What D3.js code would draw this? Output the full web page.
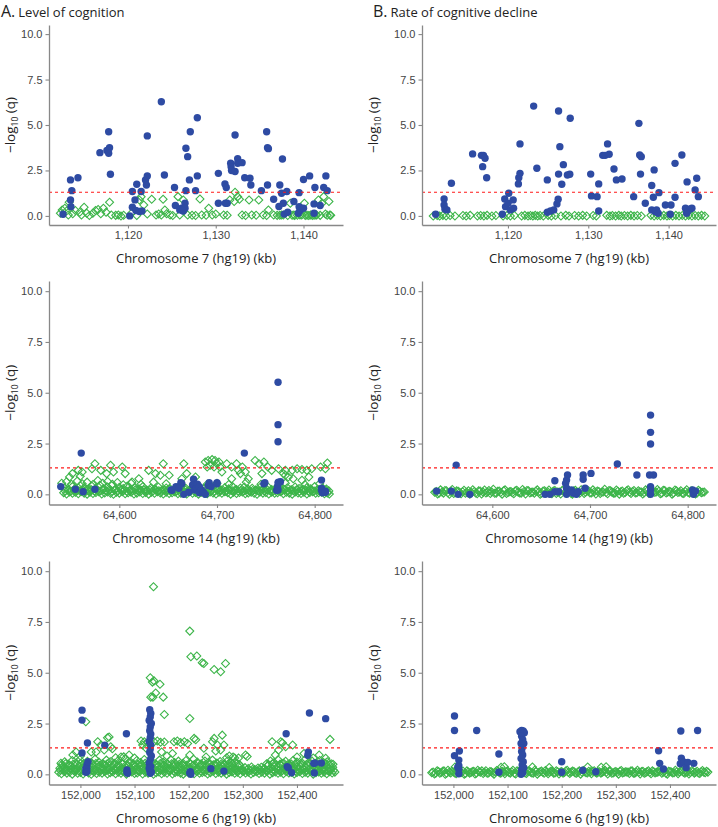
<!DOCTYPE html>
<html>
<head>
<meta charset="utf-8">
<script src="https://cdn.jsdelivr.net/npm/d3@7"></script>
<style>
  body { margin: 0; background: #fff; }
  svg { display: block; font-family: "Open Sans", sans-serif; }
  .tick text { fill: #444; font-size: 11px; }
  .tick line { stroke: #888; stroke-width: 1.1; }
  .domain { stroke: #888; stroke-width: 1.3; }
</style>
</head>
<body>
<div id="chart"></div>
<script>
// ---- shared axis values ----
const yTicks = [0, 2.5, 5, 7.5, 10];
const chr7Ticks = [1120, 1130, 1140];
const chr14Ticks = [64600, 64700, 64800];
const chr6Ticks = [152000, 152100, 152200, 152300, 152400];
const qThreshold = 1.3; // -log10(0.05)

// ---- A, chromosome 7 ----
const a7Blue = [[1112.6,.09],[1113.45,1.98],[1113.6,1.39],[1113.45,.88],[1113.5,.51],[1114.3,2.1],[1116.8,3.48],[1117.8,4.63],[1117.6,3.6],[1117.9,3.75],[1117.8,3.45],[1118,2.29],
  [1120.2,0],[1120.5,1.34],[1121,1.74],[1120.8,.88],[1120.5,.48],[1120.9,.3],[1121.3,.24],[1121.6,.27],[1121.5,1.34],[1122,1.98],[1122.1,1.7],[1122.2,2.2],[1122.2,4.4],
  [1123.8,6.28],[1124.15,2.25],[1125.3,1.56],[1125.4,.57],[1125.9,.33],[1126.1,.42],[1126.3,.27],[1126.5,.7],[1126.5,.42],[1126.2,.3],[1126.6,3.72],[1126.8,3.26],[1127,1.98],
  [1127.1,4.63],[1126.6,1.39],[1127.9,5.4],[1127.9,2.2],[1127.7,1.39],[1130.3,2.34],[1130.3,.7],[1131.05,1.76],[1131.2,1.56],[1131.1,.7],[1131.3,.7],[1131.7,2.9],[1131.75,2.7],
  [1131.8,2.5],[1132.2,2.44],[1132.2,4.45],[1132.5,3.15],[1132.5,2.9],[1133,2.93],[1133.3,2.1],[1133.9,2.07],[1134,1.7],[1135.2,1.39],[1135.8,4.63],[1135.9,3.75],[1136,3.7],
  [1135.9,1.7],[1136.6,.92],[1137.3,1.7],[1137.6,3.13],[1137.5,1.25],[1137.2,.52],[1137.7,.7],[1137.8,.1],[1138.2,.2],[1138.1,1.34],[1138.9,.79],[1139.5,1.28],[1139.5,.5],
  [1139.6,.3],[1139.4,.15],[1140,2],[1140.7,2.2],[1140,.42],[1141.3,1.56],[1141.2,.66],[1141.2,.15],[1141.9,.57],[1142.3,1.56],[1142.55,2.2],[1142.7,1.39]];
const a7Green = [[1112.3,.15],[1112.5,.33],[1112.8,.42],[1113,.27],[1113.2,.05],[1113.3,.75],[1113.7,.12],[1114,.3],[1114.5,.2],[1114.7,.05],[1115,.48],[1115.3,.15],[1115.6,.02],
  [1116,.15],[1116.3,.3],[1116.6,.35],[1116.9,.12],[1117.2,.42],[1117.5,.2],[1117.9,.75],[1118.1,.05],[1118.6,.03],[1118.9,.05],[1119.2,0],[1119.5,.04],[1120.4,.15],[1121,.02],
  [1121.3,.88],[1121.5,1.06],[1121.8,.6],[1122.2,.1],[1122.7,.92],[1123.2,.05],[1123.5,.1],[1123.8,.05],[1124,.92],[1124.2,.33],[1124.4,.12],[1124.8,.05],[1125.1,.02],[1125.7,1.06],
  [1125.9,.05],[1126.3,.88],[1126.8,.05],[1127.3,.04],[1127.7,.02],[1128.2,.93],[1128.4,.05],[1128.9,.04],[1129.2,.42],[1129.6,.05],[1130,.1],[1130.9,.05],[1131.3,.04],[1131.6,.88],
  [1132.2,1.3],[1132.5,1.06],[1132.7,.92],[1132.1,.79],[1133,.05],[1133.4,.02],[1133.8,.88],[1134.1,.05],[1134.6,.04],[1134.9,.88],[1135.4,.05],[1135.8,.02],[1136,.33],[1136.6,.05],
  [1137,.03],[1137.3,.04],[1137.5,.05],[1137.7,.05],[1138.2,.02],[1138.5,.7],[1138.7,.04],[1138.9,.05],[1139,.02],[1139.3,.04],[1139.6,.05],[1139.8,.05],[1140.1,.7],[1140.2,.03],
  [1140.4,.04],[1140.6,.02],[1140.8,.05],[1141,.03],[1141.2,.04],[1141.4,.05],[1141.5,.05],[1141.7,.88],[1141.9,.03],[1142.1,.7],[1142.3,1.06],[1142.5,.1],[1142.7,.04],[1142.9,.79],
  [1143,.05],[1143.1,.03]];

// ---- B, chromosome 7 ----
const b7Blue = [[1111,.09],[1112.05,.93],[1112.05,.6],[1112.15,.38],[1112.4,.33],[1112.96,1.8],[1115.6,3.41],[1116.7,3.33],[1116.95,3.33],[1117.15,3.17],[1116.85,2.71],[1117.35,2.1],
  [1119.3,.09],[1119.6,.93],[1119.7,.51],[1120,.7],[1120.1,1.25],[1120.3,.33],[1120.65,.88],[1120.7,.42],[1121.3,1.76],[1121.35,2.1],[1121.5,2.34],[1121.5,3.96],[1123.6,2.62],
  [1123.2,6.04],[1124.9,1.98],[1124.9,.2],[1125.3,.27],[1125.7,.33],[1126.1,.66],[1126.25,.92],[1126.3,5.77],[1126.3,2.3],[1126.46,3.81],[1126.7,1.74],[1126.9,2.82],[1127.4,2.25],
  [1127.7,2.29],[1127.75,5.37],[1130.3,2.3],[1130.4,1.1],[1131.1,1.06],[1131.3,1.76],[1131.3,.27],[1131.8,3.33],[1132.1,3.33],[1132.4,3.96],[1132.6,3.39],[1133.2,2.58],[1133.5,1.98],
  [1134.2,2.03],[1135.65,1.06],[1136.3,5.09],[1136.4,3.35],[1136.6,3.26],[1136.5,2.3],[1137.1,.7],[1137.9,1.67],[1138.2,2.53],[1138.1,1.03],[1137.9,.33],[1138.3,.24],[1138.5,.33],
  [1138.7,.15],[1138.8,1.28],[1139.6,.6],[1140.3,.6],[1140.2,.09],[1140.8,2.89],[1140.8,1.03],[1141.65,3.35],[1142.3,1.87],[1142.1,.42],[1142.3,.2],[1142.7,.38],[1142.9,.42],
  [1142.25,.15],[1143.3,1.43],[1143.5,2.07],[1143.7,1.06]];
const b7Green = [[1110.7,0],[1111.2,.02],[1111.5,0],[1111.9,.03],[1112.3,0],[1112.8,.02],[1113.4,0],[1114.4,.02],[1114.8,0],[1115.3,.03],[1116.2,0],[1116.6,.02],[1117,0],[1117.4,.03],
  [1118,0],[1118.5,.02],[1119.4,0],[1119.9,.03],[1120.3,0],[1120.8,.02],[1121.7,0],[1122.1,.03],[1122.5,0],[1122.8,.02],[1123.1,0],[1123.4,.03],[1123.7,0],[1124,.02],[1124.4,0],
  [1125,.03],[1125.4,0],[1125.9,.02],[1126.6,0],[1127.2,.03],[1127.6,0],[1128.3,.02],[1128.8,0],[1129.3,.03],[1129.8,0],[1130.6,.02],[1131,0],[1132.3,.03],[1132.7,0],[1133,.02],
  [1133.4,0],[1133.8,.03],[1134.1,0],[1134.5,.02],[1134.9,0],[1135.3,.03],[1135.7,0],[1136.1,.02],[1136.6,0],[1137.8,.03],[1138.2,0],[1138.6,.02],[1139,0],[1139.4,.03],[1139.8,0],
  [1140.1,.02],[1140.5,0],[1140.9,.03],[1141.3,0],[1141.7,.02],[1142.1,0],[1142.5,.03],[1142.9,0],[1143.3,.02],[1143.7,0],[1144.1,.03],[1144.5,0]];

// ---- A, chromosome 14 ----
const a14Blue = [[64540,.38],[64561,2.03],[64555,.25],[64563,.13],[64575,.25],[64653,.21],[64654,.2],[64658,.38],[64663,.57],[64664,.52],[64661,.3],[64666,0],[64671,.1],[64676,.74],
  [64675,.46],[64677,.21],[64679,.3],[64680,.5],[64682,.08],[64682,.38],[64684,.21],[64686,.12],[64688,0],[64691,.44],[64692,.57],[64694,.38],[64700,.57],[64700,.52],[64728,2.03],
  [64748,.52],[64749,.57],[64761,.2],[64762.5,5.52],[64762.5,3.43],[64762.5,2.59],[64762.5,.57],[64762.5,.21],[64765,.62],[64762,.38],[64763,.6],[64807,.7],[64807,.3],[64807,.2],
  [64808,.08],[64811,.16],[64811,.1]];
const a14Green = [
  // lower band
  [64543,.08],[64546,.02],[64549,.12],[64552,.05],[64555,.1],[64558,.03],[64561,.14],[64564,.06],[64567,.01],[64570,.11],[64573,.04],[64576,.09],[64579,.13],[64582,.02],[64585,.07],
  [64588,.12],[64591,.05],[64594,0],[64597,.1],[64600,.06],[64603,.13],[64606,.03],[64609,.08],[64612,.11],[64615,.02],[64618,.06],[64621,.12],[64624,.04],[64627,.09],[64630,.01],
  [64633,.1],[64636,.05],[64639,.13],[64642,.07],[64645,.02],[64648,.11],[64651,.04],[64654,.08],[64657,.12],[64660,.03],[64663,.06],[64666,.1],[64669,.02],[64672,.13],[64675,.05],
  [64678,.09],[64681,.01],[64684,.11],[64687,.06],[64690,.03],[64693,.12],[64696,.07],[64699,.02],[64702,.1],[64705,.05],[64708,.13],[64711,.08],[64714,.01],[64717,.11],[64720,.04],
  [64723,.09],[64726,.12],[64729,.03],[64732,.07],[64735,.1],[64738,.05],[64741,0],[64744,.12],[64747,.06],[64750,.09],[64753,.02],[64756,.11],[64759,.05],[64762,.08],[64765,.13],
  [64768,.03],[64771,.1],[64774,.06],[64777,.01],[64780,.12],[64783,.07],[64786,.04],[64789,.1],[64792,.02],[64795,.09],[64798,.13],[64801,.05],[64804,.08],[64807,.11],[64810,.03],
  [64813,.07],[64815,.02],
  [64544.5,.17],[64547.5,.21],[64550.5,.15],[64553.5,.22],[64556.5,.18],[64559.5,.16],[64562.5,.21],[64565.5,.19],[64568.5,.15],[64571.5,.23],[64574.5,.17],[64577.5,.2],[64580.5,.16],
  [64583.5,.22],[64586.5,.18],[64589.5,.2],[64592.5,.15],[64595.5,.21],[64598.5,.17],[64601.5,.23],[64604.5,.19],[64607.5,.16],[64610.5,.2],[64613.5,.18],[64616.5,.22],[64619.5,.15],
  [64622.5,.19],[64625.5,.21],[64628.5,.17],[64631.5,.2],[64634.5,.16],[64637.5,.22],[64640.5,.18],[64643.5,.15],[64646.5,.2],[64649.5,.23],[64652.5,.17],[64655.5,.19],[64658.5,.15],
  [64661.5,.21],[64664.5,.18],[64667.5,.22],[64670.5,.16],[64673.5,.2],[64676.5,.17],[64679.5,.23],[64682.5,.19],[64685.5,.15],[64688.5,.21],[64691.5,.18],[64694.5,.2],[64697.5,.16],
  [64700.5,.22],[64703.5,.17],[64706.5,.19],[64709.5,.15],[64712.5,.21],[64715.5,.18],[64718.5,.23],[64721.5,.16],[64724.5,.2],[64727.5,.17],[64730.5,.22],[64733.5,.15],[64736.5,.19],
  [64739.5,.21],[64742.5,.17],[64745.5,.2],[64748.5,.16],[64751.5,.22],[64754.5,.18],[64757.5,.15],[64760.5,.21],[64763.5,.19],[64766.5,.17],[64769.5,.23],[64772.5,.16],[64775.5,.2],
  [64778.5,.18],[64781.5,.22],[64784.5,.15],[64787.5,.19],[64790.5,.21],[64793.5,.17],[64796.5,.2],[64799.5,.16],[64802.5,.22],[64805.5,.18],[64808.5,.15],[64811.5,.2],[64814.5,.17],
  // middle band
  [64544,.3],[64548,.22],[64552,.38],[64556,.27],[64560,.42],[64564,.33],[64568,.25],[64572,.4],[64576,.3],[64580,.45],[64584,.28],[64588,.36],[64592,.44],[64596,.24],[64600,.35],
  [64604,.29],[64608,.4],[64612,.22],[64616,.33],[64620,.27],[64624,.38],[64628,.21],[64632,.3],[64636,.25],[64640,.36],[64644,.22],[64648,.31],[64652,.27],[64656,.2],[64660,.34],
  [64664,.26],[64668,.3],[64672,.23],[64676,.35],[64680,.28],[64684,.2],[64688,.32],[64692,.26],[64696,.37],[64700,.29],[64704,.22],[64708,.33],[64712,.27],[64716,.38],[64720,.24],
  [64724,.31],[64728,.36],[64732,.25],[64736,.3],[64740,.21],[64744,.34],[64748,.28],[64752,.37],[64756,.24],[64760,.3],[64764,.35],[64768,.26],[64772,.32],[64776,.22],[64780,.36],
  [64784,.29],[64788,.25],[64792,.33],[64796,.27],[64800,.38],[64804,.23],[64808,.31],[64812,.26],
  // upper edge of band
  [64541,.55],[64546,.62],[64551,.5],[64557,.66],[64562,.52],[64567,.6],[64573,.48],[64578,.68],[64583,.55],[64588,.63],[64593,.5],[64598,.58],[64604,.47],[64612,.55],[64622,.5],
  [64635,.6],[64648,.52],[64690,.5],[64700,.55],[64712,.48],[64730,.6],[64745,.5],[64770,.55],[64790,.48],[64805,.52],
  // scattered
  [64549,.85],[64552,1.02],[64558,1.18],[64562,1.1],[64560,.89],[64575,1.51],[64581,1.18],[64572,1.26],[64591,1.43],[64594,1.1],[64587,1.02],[64603,1.35],[64606,1.02],[64613,.61],
  [64620,.77],[64630,1.18],[64637,1.02],[64642,.94],[64645,1.51],[64651,.94],[64666,1.51],[64669,1.02],[64664,.77],[64688,1.59],[64691,1.67],[64695,1.71],[64698,1.67],[64702,1.59],
  [64693,1.43],[64697,1.35],[64700,1.51],[64703,1.35],[64690,1.35],[64705,1.1],[64710,1.51],[64715,1.35],[64720,1.51],[64722,1.18],[64726,1.35],[64729,1.1],[64724,1.02],[64739,1.67],
  [64743,1.51],[64748,1.59],[64752,1.35],[64756,1.18],[64746,1.02],[64763,1.26],[64768,1.02],[64770,1.18],[64777,1.18],[64782,1.26],[64787,1.22],[64792,1.18],[64797,1.26],[64778,.77],
  [64787,.69],[64806,1.35],[64813,1.54],[64811,1.26],[64770,.94],[64773,.85],[64794,.85],[64732,.77],[64715,.77],[64678,.85]];

// ---- B, chromosome 14 ----
const b14Blue = [[64543,.16],[64558,.16],[64565,0],[64577,0],[64563,1.44],[64654,0],[64659,0],[64664,.13],[64664,.67],[64668,.13],[64675,.54],[64676,.7],[64677,.95],[64676,.3],
  [64676,0],[64680,.13],[64681,.21],[64683,.05],[64686,0],[64688,.13],[64693,.74],[64693,.95],[64695,.3],[64701,1.03],[64728,1.49],[64748,.95],[64762,3.9],[64762,3.05],[64762,2.48],
  [64761,.95],[64765,.95],[64762,.38],[64762,.21],[64762,0],[64805,.21],[64806,0],[64808,.16]];
const b14Green = [[64541,.1],[64544,.02],[64547,.22],[64550,.06],[64553,.18],[64556,0],[64559,.24],[64562,.08],[64565,.15],[64568,.03],[64571,.2],[64574,.1],[64577,.01],[64580,.23],
  [64583,.07],[64586,.17],[64589,.02],[64592,.21],[64595,.11],[64598,.04],[64601,.25],[64604,.06],[64607,.16],[64610,.01],[64613,.22],[64616,.09],[64619,.14],[64622,.03],[64625,.2],
  [64628,.07],[64631,.24],[64634,.02],[64637,.18],[64640,.1],[64643,.05],[64646,.22],[64649,0],[64652,.16],[64655,.08],[64658,.21],[64661,.03],[64664,.19],[64667,.11],[64670,.02],
  [64673,.24],[64676,.06],[64679,.15],[64682,.01],[64685,.2],[64688,.09],[64691,.23],[64694,.04],[64697,.17],[64700,.07],[64703,.22],[64706,.02],[64709,.14],[64712,.1],[64715,.25],
  [64718,.03],[64721,.18],[64724,.06],[64727,.21],[64730,.01],[64733,.16],[64736,.09],[64739,.23],[64742,.04],[64745,.19],[64748,.08],[64751,.13],[64754,.02],[64757,.22],[64760,.05],
  [64763,.17],[64766,.1],[64769,.24],[64772,.03],[64775,.2],[64778,.07],[64781,.15],[64784,.01],[64787,.21],[64790,.09],[64793,.18],[64796,.04],[64799,.23],[64802,.06],[64805,.16],
  [64808,.02],[64811,.2],[64814,.08],[64817,.12],
  [64542.5,.14],[64545.5,.06],[64548.5,.12],[64551.5,.19],[64554.5,.08],[64557.5,.15],[64560.5,.04],[64563.5,.17],[64566.5,.1],[64569.5,.13],[64572.5,.05],[64575.5,.18],[64578.5,.09],
  [64581.5,.14],[64584.5,.03],[64587.5,.16],[64590.5,.11],[64593.5,.07],[64596.5,.19],[64599.5,.12],[64602.5,.05],[64605.5,.15],[64608.5,.09],[64611.5,.18],[64614.5,.04],[64617.5,.13],
  [64620.5,.08],[64623.5,.17],[64626.5,.11],[64629.5,.06],[64632.5,.14],[64635.5,.19],[64638.5,.07],[64641.5,.12],[64644.5,.15],[64647.5,.1],[64650.5,.05],[64653.5,.18],[64656.5,.13],
  [64659.5,.08],[64662.5,.16],[64665.5,.04],[64668.5,.12],[64671.5,.19],[64674.5,.09],[64677.5,.14],[64680.5,.06],[64683.5,.17],[64686.5,.11],[64689.5,.05],[64692.5,.15],[64695.5,.1],
  [64698.5,.18],[64701.5,.07],[64704.5,.13],[64707.5,.16],[64710.5,.04],[64713.5,.12],[64716.5,.09],[64719.5,.19],[64722.5,.11],[64725.5,.06],[64728.5,.15],[64731.5,.13],[64734.5,.05],
  [64737.5,.17],[64740.5,.1],[64743.5,.14],[64746.5,.07],[64749.5,.18],[64752.5,.12],[64755.5,.08],[64758.5,.16],[64761.5,.04],[64764.5,.13],[64767.5,.11],[64770.5,.15],[64773.5,.06],
  [64776.5,.19],[64779.5,.1],[64782.5,.13],[64785.5,.07],[64788.5,.17],[64791.5,.12],[64794.5,.05],[64797.5,.14],[64800.5,.09],[64803.5,.18],[64806.5,.11],[64809.5,.06],[64812.5,.15],
  [64815.5,.1]];

// ---- A, chromosome 6 ----
const a6Blue = [[152003,3.16],[152003,2.67],[152003,1.05],[152010,.28],[152010,.1],[152012,.46],[152012,.3],[152012,.13],[152014,.62],[152013,1.54],[152045,1.43],[152085,2.0],
  [152086,.21],[152086,.1],[152087,.05],[152128,3.18],[152130,3.0],[152129,2.82],[152127,2.65],[152131,2.5],[152129,2.33],[152128,2.15],[152130,1.98],[152129,1.8],[152127,1.62],
  [152130,1.45],[152129,1.25],[152128,1.08],[152131,.9],[152129,.72],[152127,.55],[152130,.38],[152128,.2],[152129,.05],[152131,.12],[152127,.3],[152202,.07],[152203,.13],[152204,0],
  [152241,.28],[152265,.16],[152380,2.0],[152382,.38],[152384,.33],[152390,.08],[152423,3.02],[152421,1.1],[152420,.94],[152431,.54],[152433,.56],[152432,.07],[152445,.56],[152453,2.74]];
const a6Green = [
  // lower band
  [151960,.1],[151965,.03],[151970,.14],[151975,.06],[151980,.11],[151985,.01],[151990,.13],[151995,.05],[152000,.09],[152005,.02],[152010,.15],[152015,.07],[152020,0],[152025,.12],
  [152030,.04],[152035,.1],[152040,.06],[152045,.14],[152050,.02],[152055,.08],[152060,.13],[152065,.03],[152070,.11],[152075,.05],[152080,.15],[152085,.01],[152090,.09],[152095,.12],
  [152100,.04],[152105,.07],[152110,.14],[152115,.02],[152120,.1],[152125,.06],[152130,.13],[152135,0],[152140,.08],[152145,.12],[152150,.03],[152155,.1],[152160,.05],[152165,.15],
  [152170,.02],[152175,.09],[152180,.12],[152185,.06],[152190,.01],[152195,.13],[152200,.07],[152205,.1],[152210,.03],[152215,.14],[152220,.05],[152225,.09],[152230,.12],[152235,.02],
  [152240,.08],[152245,.15],[152250,.04],[152255,.11],[152260,.06],[152265,.13],[152270,.01],[152275,.09],[152280,.12],[152285,.05],[152290,.1],[152295,.03],[152300,.14],[152305,.07],
  [152310,.11],[152315,.02],[152320,.09],[152325,.13],[152330,.04],[152335,.1],[152340,.06],[152345,.15],[152350,.01],[152355,.08],[152360,.12],[152365,.05],[152370,.1],[152375,.03],
  [152380,.14],[152385,.07],[152390,.11],[152395,.02],[152400,.09],[152405,.13],[152410,.04],[152415,.1],[152420,.06],[152425,.15],[152430,.01],[152435,.08],[152440,.12],[152445,.05],
  [152450,.1],[152455,.03],[152460,.13],[152465,.07],[152470,.11],
  [151962.5,.2],[151967.5,.24],[151972.5,.18],[151977.5,.22],[151982.5,.26],[151987.5,.19],[151992.5,.23],[151997.5,.17],[152002.5,.21],[152007.5,.25],[152012.5,.18],[152017.5,.22],
  [152022.5,.2],[152027.5,.24],[152032.5,.17],[152037.5,.21],[152042.5,.26],[152047.5,.19],[152052.5,.23],[152057.5,.18],[152062.5,.22],[152067.5,.25],[152072.5,.2],[152077.5,.17],
  [152082.5,.23],[152087.5,.21],[152092.5,.26],[152097.5,.18],[152102.5,.22],[152107.5,.19],[152112.5,.24],[152117.5,.2],[152122.5,.17],[152127.5,.23],[152132.5,.21],[152137.5,.25],
  [152142.5,.18],[152147.5,.22],[152152.5,.2],[152157.5,.26],[152162.5,.19],[152167.5,.23],[152172.5,.17],[152177.5,.21],[152182.5,.24],[152187.5,.2],[152192.5,.18],[152197.5,.22],
  [152202.5,.25],[152207.5,.19],[152212.5,.23],[152217.5,.2],[152222.5,.17],[152227.5,.24],[152232.5,.21],[152237.5,.18],[152242.5,.26],[152247.5,.2],[152252.5,.22],[152257.5,.19],
  [152262.5,.24],[152267.5,.17],[152272.5,.21],[152277.5,.25],[152282.5,.18],[152287.5,.22],[152292.5,.2],[152297.5,.23],[152302.5,.17],[152307.5,.21],[152312.5,.19],[152317.5,.24],
  [152322.5,.2],[152327.5,.18],[152332.5,.22],[152337.5,.25],[152342.5,.19],[152347.5,.23],[152352.5,.17],[152357.5,.21],[152362.5,.26],[152367.5,.2],[152372.5,.18],[152377.5,.22],
  [152382.5,.24],[152387.5,.19],[152392.5,.21],[152397.5,.17],[152402.5,.23],[152407.5,.2],[152412.5,.25],[152417.5,.18],[152422.5,.22],[152427.5,.19],[152432.5,.24],[152437.5,.2],
  [152442.5,.17],[152447.5,.23],[152452.5,.21],[152457.5,.18],[152462.5,.22],[152467.5,.2],
  // middle band
  [151962,.3],[151968,.38],[151974,.25],[151980,.42],[151986,.33],[151992,.27],[151998,.4],[152004,.31],[152010,.44],[152016,.26],[152022,.36],[152028,.22],[152034,.39],[152040,.3],
  [152046,.45],[152052,.28],[152058,.35],[152064,.24],[152070,.41],[152076,.32],[152082,.27],[152088,.43],[152094,.29],[152100,.37],[152106,.23],[152112,.4],[152118,.33],[152124,.26],
  [152130,.42],[152136,.3],[152142,.36],[152148,.25],[152154,.44],[152160,.31],[152166,.28],[152172,.39],[152178,.22],[152184,.35],[152190,.41],[152196,.27],[152202,.33],[152208,.45],
  [152214,.29],[152220,.37],[152226,.24],[152232,.4],[152238,.32],[152244,.26],[152250,.43],[152256,.3],[152262,.36],[152268,.23],[152274,.41],[152280,.34],[152286,.27],[152292,.38],
  [152298,.25],[152304,.33],[152310,.29],[152316,.36],[152322,.24],[152328,.31],[152334,.35],[152340,.27],[152346,.42],[152352,.3],[152358,.37],[152364,.25],[152370,.44],[152376,.32],
  [152382,.28],[152388,.4],[152394,.23],[152400,.36],[152406,.41],[152412,.29],[152418,.34],[152424,.26],[152430,.43],[152436,.31],[152442,.37],[152448,.24],[152454,.39],[152460,.3],
  [152466,.35],
  [151965.5,.47],[151972.5,.52],[151979.5,.45],[151986.5,.5],[151993.5,.48],[152000.5,.54],[152007.5,.46],[152014.5,.51],[152021.5,.49],[152028.5,.53],[152035.5,.45],[152042.5,.5],
  [152049.5,.52],[152056.5,.47],[152063.5,.55],[152070.5,.48],[152077.5,.51],[152084.5,.46],[152091.5,.53],[152098.5,.49],[152105.5,.5],[152112.5,.47],[152119.5,.54],[152126.5,.45],
  [152133.5,.51],[152140.5,.48],[152147.5,.53],[152154.5,.46],[152161.5,.5],[152168.5,.52],[152175.5,.47],[152182.5,.49],[152189.5,.54],[152196.5,.45],[152203.5,.51],[152210.5,.48],
  [152217.5,.53],[152224.5,.46],[152231.5,.5],[152238.5,.52],[152245.5,.47],[152252.5,.55],[152259.5,.49],[152266.5,.46],[152273.5,.51],[152280.5,.48],[152287.5,.53],[152294.5,.45],
  [152347.5,.48],[152354.5,.52],[152361.5,.46],[152368.5,.5],[152375.5,.54],[152382.5,.47],[152389.5,.51],[152396.5,.49],[152403.5,.45],[152410.5,.53],[152417.5,.48],[152424.5,.5],
  [152431.5,.46],[152438.5,.52],[152445.5,.49],[152452.5,.54],[152459.5,.47],[152466.5,.5],
  // upper band
  [151964,.55],[151971,.62],[151978,.5],[151985,.68],[151992,.57],[151999,.72],[152006,.52],[152013,.64],[152020,.58],[152027,.75],[152034,.6],[152041,.53],[152048,.7],[152055,.62],
  [152062,.5],[152069,.66],[152076,.55],[152083,.78],[152090,.6],[152097,.52],[152104,.68],[152111,.58],[152118,.73],[152125,.55],[152132,.63],[152139,.5],[152146,.7],[152153,.6],
  [152160,.54],[152167,.72],[152174,.58],[152181,.65],[152188,.5],[152195,.68],[152202,.56],[152209,.74],[152216,.6],[152223,.52],[152230,.66],[152237,.58],[152244,.7],[152251,.55],
  [152258,.63],[152265,.5],[152272,.67],[152279,.57],[152286,.62],[152293,.5],[152344,.52],[152351,.66],[152358,.58],[152365,.72],[152372,.55],[152379,.64],[152386,.5],[152393,.69],
  [152400,.6],[152407,.53],[152414,.7],[152421,.57],[152428,.65],[152435,.5],[152442,.68],[152449,.58],[152456,.62],[152463,.52],
  // scattered
  [152135,9.23],[152202,7.05],[152204,5.79],[152215,5.82],[152225,5.49],[152228,5.46],[152247,5.16],[152259,5.05],[152268,5.46],[152129,4.75],[152133,4.54],[152136,4.6],[152147,4.43],
  [152139,4.0],[152130,3.8],[152134,3.8],[152153,3.8],[152155,2.95],[152202,2.75],[152010,2.59],[152112,1.64],[152118,1.6],[152124,1.57],[152136,1.6],[152142,1.64],[152148,1.58],
  [152155,1.59],[152115,1.44],[152121,1.3],[152173,1.6],[152179,1.64],[152185,1.57],[152192,1.6],[152198,1.52],[152210,1.77],[152213,1.7],[152202,.95],[152228,1.28],[152244,1.6],
  [152247,1.77],[152253,1.44],[152262,1.93],[152265,1.44],[152259,1.2],[152250,1.15],[152032,1.6],[152050,1.8],[152056,1.36],[152038,1.44],[152044,1.2],[152053,1.84],[152029,1.1],
  [152059,1.26],[151986,.95],[151992,1.1],[152354,1.6],[152370,1.6],[152373,1.55],[152379,1.36],[152392,1.44],[152366,1.2],[152360,.95],[152413,1.03],[152441,.95],[152461,1.72],
  [152453,.79],[152305,.95],[152308,.88],[152170,1.03],[152150,1.1],[152160,.9],[152090,.95],[152075,.85],[152020,1.1],[152000,.9],[152232,.85],[152275,.9],[152285,.8],[152400,.85],
  [152430,.8],[152270,.82],[152282,.85],[152292,.8],[152065,.82],[152080,.86],[152100,.8]];

// ---- B, chromosome 6 ----
const b6Blue = [[152002,2.87],[152002,2.16],[152002,.92],[152010,.7],[152011,1.15],[152010,.43],[152010,.26],[152010,.03],[152008,.35],[152043,2.16],[152084,1.0],[152084,.1],
  [152126,2.16],[152123,2.1],[152129,2.13],[152131,2.05],[152126,1.88],[152128,1.7],[152125,1.52],[152130,1.52],[152127,1.3],[152126,1.12],[152128,.95],[152125,.78],[152129,.62],
  [152127,.46],[152130,.33],[152126,.21],[152128,.08],[152125,0],[152200,.62],[152200,.1],[152239,.2],[152263,.13],[152379,1.16],[152381,.54],[152388,.26],[152420,2.13],[152421,.79],
  [152419,.52],[152426,.6],[152430,.33],[152433,.59],[152444,.54],[152451,2.16]];
const b6Green = [[151960,.08],[151965,.02],[151970,.18],[151975,.05],[151980,.15],[151985,0],[151990,.2],[151995,.07],[152000,.12],[152005,.03],[152010,.19],[152015,.09],[152020,.01],
  [152025,.17],[152030,.06],[152035,.14],[152040,.02],[152045,.2],[152050,.1],[152055,.04],[152060,.18],[152065,.07],[152070,.13],[152075,.01],[152080,.19],[152085,.08],[152090,.15],
  [152095,.03],[152100,.17],[152105,.06],[152110,.2],[152115,.02],[152120,.14],[152125,.09],[152130,.18],[152135,.04],[152140,.16],[152145,.07],[152150,.2],[152155,.01],[152160,.13],
  [152165,.1],[152170,.19],[152175,.03],[152180,.15],[152185,.06],[152190,.18],[152195,.02],[152200,.14],[152205,.09],[152210,.2],[152215,.04],[152220,.16],[152225,.07],[152230,.12],
  [152235,.01],[152240,.19],[152245,.08],[152250,.15],[152255,.03],[152260,.18],[152265,.06],[152270,.13],[152275,.1],[152280,.2],[152285,.02],[152290,.16],[152295,.07],[152300,.14],
  [152305,.01],[152310,.19],[152315,.09],[152320,.12],[152325,.04],[152330,.17],[152335,.06],[152340,.2],[152345,.02],[152350,.15],[152355,.08],[152360,.18],[152365,.03],[152370,.13],
  [152375,.1],[152380,.19],[152385,.05],[152390,.16],[152395,.01],[152400,.14],[152405,.07],[152410,.2],[152415,.03],[152420,.17],[152425,.09],[152430,.12],[152435,.02],[152440,.18],
  [152445,.06],[152450,.15],[152455,.04],[152460,.19],[152465,.08],[152470,.11],
  [151962.5,.12],[151967.5,.06],[151972.5,.14],[151977.5,.09],[151982.5,.17],[151987.5,.05],[151992.5,.11],[151997.5,.15],[152002.5,.07],[152007.5,.13],[152012.5,.1],[152017.5,.16],
  [152022.5,.04],[152027.5,.12],[152032.5,.09],[152037.5,.15],[152042.5,.06],[152047.5,.13],[152052.5,.17],[152057.5,.1],[152062.5,.05],[152067.5,.14],[152072.5,.08],[152077.5,.12],
  [152082.5,.16],[152087.5,.06],[152092.5,.11],[152097.5,.14],[152102.5,.09],[152107.5,.13],[152112.5,.05],[152117.5,.17],[152122.5,.1],[152127.5,.12],[152132.5,.07],[152137.5,.15],
  [152142.5,.11],[152147.5,.06],[152152.5,.14],[152157.5,.09],[152162.5,.16],[152167.5,.05],[152172.5,.12],[152177.5,.1],[152182.5,.15],[152187.5,.07],[152192.5,.13],[152197.5,.11],
  [152202.5,.06],[152207.5,.16],[152212.5,.09],[152217.5,.12],[152222.5,.14],[152227.5,.05],[152232.5,.17],[152237.5,.1],[152242.5,.13],[152247.5,.07],[152252.5,.11],[152257.5,.15],
  [152262.5,.09],[152267.5,.12],[152272.5,.06],[152277.5,.14],[152282.5,.1],[152287.5,.16],[152292.5,.05],[152297.5,.12],[152302.5,.09],[152307.5,.15],[152312.5,.07],[152317.5,.13],
  [152322.5,.11],[152327.5,.16],[152332.5,.06],[152337.5,.12],[152342.5,.1],[152347.5,.14],[152352.5,.05],[152357.5,.13],[152362.5,.09],[152367.5,.17],[152372.5,.07],[152377.5,.11],
  [152382.5,.14],[152387.5,.1],[152392.5,.06],[152397.5,.15],[152402.5,.12],[152407.5,.08],[152412.5,.13],[152417.5,.11],[152422.5,.16],[152427.5,.05],[152432.5,.12],[152437.5,.09],
  [152442.5,.14],[152447.5,.1],[152452.5,.07],[152457.5,.13],[152462.5,.11],[152467.5,.15],
  [152003,.36],[152088,.35],[152094,.37],[152146,.36],[152177,.34],[152248,.36],[152273,.35],[152282,.37]];

// ---- layout ----
const width = 718, height = 827;
const cols = [{ x0: 49, x1: 343, titleX: 10 }, { x0: 422, x1: 716, titleX: 373 }];
const rows = [{ y0: 25, y1: 225 }, { y0: 281, y1: 504.5 }, { y0: 561, y1: 784.5 }];
const blueColor = "#2e4ba3";
const greenColor = "#3db54a";

const panels = [
  { col: 0, row: 0, blue: a7Blue, green: a7Green, xDomain: [1111.0, 1144.5], ticks: chr7Ticks, xLabel: "Chromosome 7 (hg19) (kb)" },
  { col: 1, row: 0, blue: b7Blue, green: b7Green, xDomain: [1109.3, 1145.9], ticks: chr7Ticks, xLabel: "Chromosome 7 (hg19) (kb)" },
  { col: 0, row: 1, blue: a14Blue, green: a14Green, xDomain: [64528, 64829], ticks: chr14Ticks, xLabel: "Chromosome 14 (hg19) (kb)" },
  { col: 1, row: 1, blue: b14Blue, green: b14Green, xDomain: [64528, 64829], ticks: chr14Ticks, xLabel: "Chromosome 14 (hg19) (kb)" },
  { col: 0, row: 2, blue: a6Blue, green: a6Green, xDomain: [151942, 152485], ticks: chr6Ticks, xLabel: "Chromosome 6 (hg19) (kb)" },
  { col: 1, row: 2, blue: b6Blue, green: b6Green, xDomain: [151942, 152485], ticks: chr6Ticks, xLabel: "Chromosome 6 (hg19) (kb)" }
];

const svg = d3.select("#chart").append("svg")
  .attr("width", width)
  .attr("height", height);

svg.append("rect").attr("width", width).attr("height", height).attr("fill", "#fff");

// column titles
const titles = [{ x: 1, letter: "A.", text: "Level of cognition" }, { x: 373, letter: "B.", text: "Rate of cognitive decline" }];
titles.forEach(t => {
  const txt = svg.append("text").attr("x", t.x).attr("y", 17).attr("fill", "#222");
  txt.append("tspan").attr("font-size", 16).text(t.letter);
  txt.append("tspan").attr("font-size", 13).attr("dx", 3).text(t.text);
});

const diamond = d3.symbol().type(d3.symbolSquare).size(32);

panels.forEach(p => {
  const c = cols[p.col], r = rows[p.row];
  const x = d3.scaleLinear().domain(p.xDomain).range([c.x0, c.x1]);
  const y = d3.scaleLinear().domain([-0.5, 10.5]).range([r.y1, r.y0]);

  const g = svg.append("g");

  // green diamonds underneath
  g.append("g").selectAll("path")
    .data(p.green)
    .join("path")
    .attr("d", diamond)
    .attr("transform", d => `translate(${x(d[0])},${y(d[1])}) rotate(45)`)
    .attr("fill", "none")
    .attr("stroke", greenColor)
    .attr("stroke-width", 1.1);

  // blue circles on top
  g.append("g").selectAll("circle")
    .data(p.blue)
    .join("circle")
    .attr("cx", d => x(d[0]))
    .attr("cy", d => y(d[1]))
    .attr("r", 3.7)
    .attr("fill", blueColor);

  // significance threshold
  g.append("line")
    .attr("x1", c.x0).attr("x2", c.x1)
    .attr("y1", y(qThreshold)).attr("y2", y(qThreshold))
    .attr("stroke", "#ff1a1a")
    .attr("stroke-width", 1.2)
    .attr("stroke-dasharray", "3,3");

  // axes
  g.append("g")
    .attr("transform", `translate(0,${r.y1})`)
    .call(d3.axisBottom(x).tickValues(p.ticks).tickFormat(d3.format(",")).tickSizeInner(3.5).tickSizeOuter(0).tickPadding(3));

  g.append("g")
    .attr("transform", `translate(${c.x0},0)`)
    .call(d3.axisLeft(y).tickValues(yTicks).tickFormat(d3.format(".1f")).tickSizeInner(3.5).tickSizeOuter(0).tickPadding(3));

  // axis titles
  g.append("text")
    .attr("x", (c.x0 + c.x1) / 2)
    .attr("y", r.y1 + 38)
    .attr("text-anchor", "middle")
    .attr("font-size", 13)
    .attr("fill", "#222")
    .text(p.xLabel);

  const yt = g.append("text")
    .attr("transform", `translate(${c.titleX},${(r.y0 + r.y1) / 2}) rotate(-90)`)
    .attr("text-anchor", "middle")
    .attr("dy", "0.35em")
    .attr("font-size", 13.5)
    .attr("fill", "#222");
  yt.append("tspan").text("\u2212log");
  yt.append("tspan").attr("font-size", 8.5).attr("dy", 3).text("10");
  yt.append("tspan").attr("dy", -3).text(" (q)");
});
</script>
</body>
</html>
